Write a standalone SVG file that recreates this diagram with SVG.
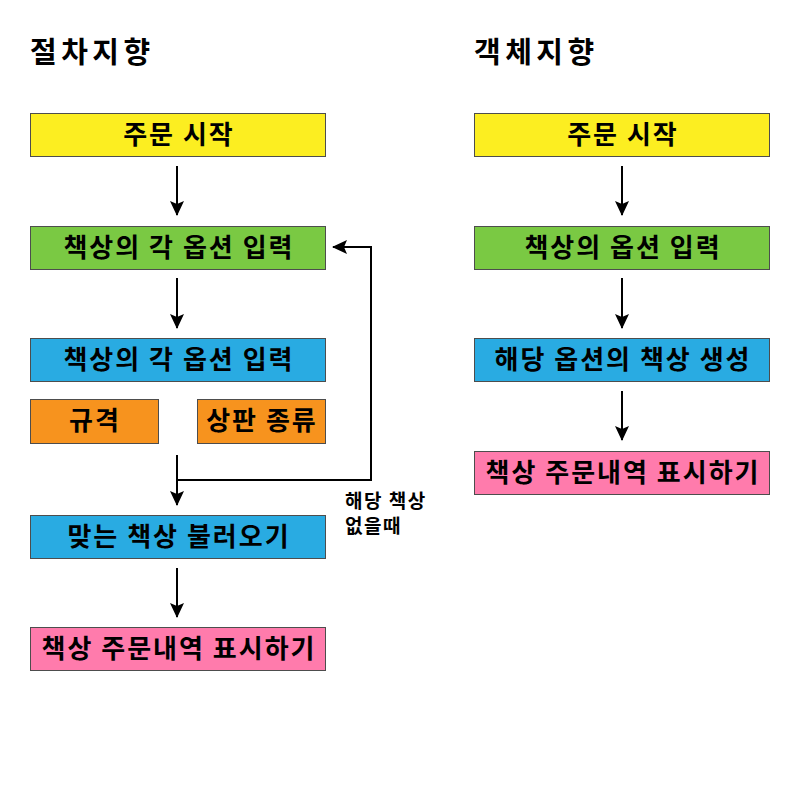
<svg xmlns="http://www.w3.org/2000/svg" width="800" height="800" viewBox="0 0 800 800">
<style>
.box{stroke:#4d4d4d;stroke-width:1}
.t{font-family:"Noto Sans CJK KR","Noto Sans",sans-serif;font-weight:bold;font-size:26px;letter-spacing:2px;fill:#000;text-anchor:middle}
.h{font-family:"Noto Sans CJK KR","Noto Sans",sans-serif;font-weight:bold;font-size:29px;letter-spacing:4.5px;fill:#000}
.l{font-family:"Noto Sans CJK KR","Noto Sans",sans-serif;font-weight:bold;font-size:19px;letter-spacing:1.5px;fill:#000}
.c{stroke:#000;stroke-width:2;fill:none;marker-end:url(#ah)}
.y{fill:#FCEE21}.g{fill:#7AC943}.b{fill:#29ABE2}.o{fill:#F7931E}.p{fill:#FF7BAC}
</style>
<defs>
<marker id="ah" markerWidth="16" markerHeight="16" refX="14" refY="7" orient="auto" markerUnits="userSpaceOnUse">
<path d="M0,0 L15,7 L0,14 L3,7 Z" fill="#000"/>
</marker>
</defs>
<rect width="800" height="800" fill="#fff"/>
<text class="h" x="30" y="63">절차지향</text>
<text class="h" x="474" y="63">객체지향</text>

<g id="L1"><rect class="box y" x="30.5" y="113.5" width="295" height="43"/><text class="t" x="179" y="144">주문 시작</text></g>
<g id="L2"><rect class="box g" x="30.5" y="226.5" width="295" height="43"/><text class="t" x="179" y="257">책상의 각 옵션 입력</text></g>
<g id="L3"><rect class="box b" x="30.5" y="338.5" width="295" height="43"/><text class="t" x="179" y="369">책상의 각 옵션 입력</text></g>
<g id="L4"><rect class="box o" x="30.5" y="399.5" width="128" height="44"/><text class="t" x="95" y="430">규격</text></g>
<g id="L5"><rect class="box o" x="197.5" y="399.5" width="128" height="44"/><text class="t" x="262" y="430">상판 종류</text></g>
<g id="L6"><rect class="box b" x="30.5" y="515.5" width="295" height="43"/><text class="t" x="179" y="546">맞는 책상 불러오기</text></g>
<g id="L7"><rect class="box p" x="30.5" y="627.5" width="295" height="43"/><text class="t" x="179" y="658">책상 주문내역 표시하기</text></g>

<g id="R1"><rect class="box y" x="474.5" y="113.5" width="295" height="43"/><text class="t" x="623" y="144">주문 시작</text></g>
<g id="R2"><rect class="box g" x="474.5" y="226.5" width="295" height="43"/><text class="t" x="623" y="257">책상의 옵션 입력</text></g>
<g id="R3"><rect class="box b" x="474.5" y="338.5" width="295" height="43"/><text class="t" x="623" y="369">해당 옵션의 책상 생성</text></g>
<g id="R4"><rect class="box p" x="474.5" y="451.5" width="295" height="43"/><text class="t" x="623" y="482">책상 주문내역 표시하기</text></g>

<g id="connectors">
<path class="c" d="M177,166 V215"/>
<path class="c" d="M177,278 V328"/>
<path class="c" d="M177,455 V505"/>
<path class="c" d="M177,568 V617"/>
<path class="c" d="M177,480 H371 V247 H333"/>
<path class="c" d="M622,166 V215"/>
<path class="c" d="M622,278 V328"/>
<path class="c" d="M622,391 V440"/>
</g>
<text class="l" x="345" y="508">해당 책상</text>
<text class="l" x="345" y="533">없을때</text>
</svg>
